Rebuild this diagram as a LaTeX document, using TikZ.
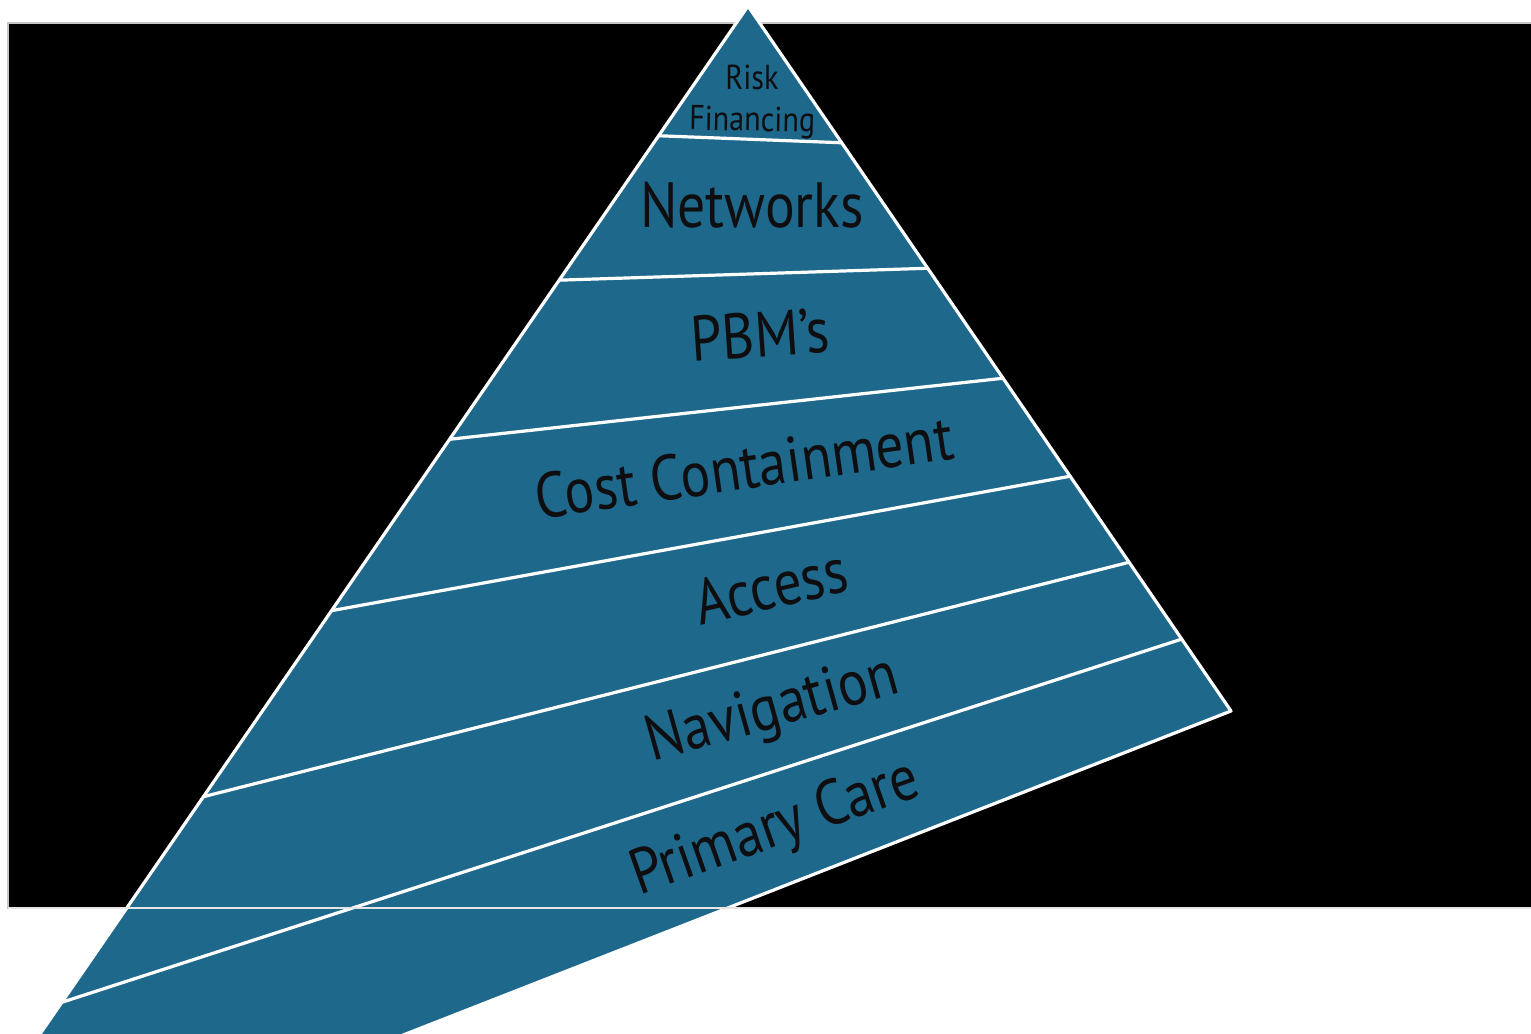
\documentclass[tikz,border=0pt]{standalone}
\usepackage{fontspec}
\setmainfont{PT Sans}
\usetikzlibrary{calc}
\definecolor{pyrblue}{RGB}{30,104,140}
\definecolor{pyrtext}{RGB}{14,14,16}
\newcommand{\tiertext}[1]{\scalebox{0.87}[1]{#1}}
\begin{document}
\begin{tikzpicture}[x=0.75pt,y=0.75pt,yscale=-1,xscale=1,
  edge/.style={draw=white,line width=2.4pt,line join=round},
  tier/.style={anchor=base,inner sep=0pt,text=pyrtext,font=\fontsize{48}{48}\selectfont},
  toptier/.style={tier,font=\fontsize{26}{26}\selectfont}]
\useasboundingbox (0,0) rectangle (1531,1034);
\clip (0,0) rectangle (1531,1034);

%Shape: Rectangle [frame]
\draw [draw=gray!45,line width=1.2pt,fill=black] (8,23) rectangle (1545,908);

%corners of the pyramid
\coordinate (apex) at (748,6);
\coordinate (rc) at (1231,711);
\coordinate (lc) at (-95,1230);

%Shape: Triangle
\fill [pyrblue] (apex) -- (rc) -- (lc) -- cycle;

%Straight Lines [tiers]
\foreach \n/\a/\b in {1/0.106/0.194, 2/0.224/0.372, 3/0.354/0.528, 4/0.494/0.667, 5/0.646/0.789, 6/0.814/0.898}{
  \coordinate (l\n) at ($(apex)!\a!(lc)$);
  \coordinate (r\n) at ($(apex)!\b!(rc)$);
  \draw [edge] (l\n) -- (r\n);
}
%Straight Lines [outline]
\draw [edge] (lc) -- (apex) -- (rc) -- cycle;

%frame bottom line over the pyramid
\draw [gray!20,line width=1.2pt] (8,908) -- (1545,908);

% Text Node
\node (risk) [toptier] at (752,90) {\tiertext{Risk}};
% Text Node
\node (financing) [toptier,rotate=-1] at (752,131) {\tiertext{Financing}};
% Text Node
\node (networks) [tier] at (752,228) {\tiertext{Networks}};
% Text Node
\node (pbm) [tier,rotate=4] at (762,357) {\tiertext{PBM’s}};
% Text Node
\node (cost) [tier,rotate=8.2] at (747,489) {\tiertext{Cost Containment}};
% Text Node
\node (access) [tier,rotate=13] at (776,608) {\tiertext{Access}};
% Text Node
\node (navigation) [tier,rotate=15.7] at (777,727) {\tiertext{Navigation}};
% Text Node
\node (primary) [tier,rotate=19.5] at (781,845) {\tiertext{Primary Care}};
\end{tikzpicture}
\end{document}
